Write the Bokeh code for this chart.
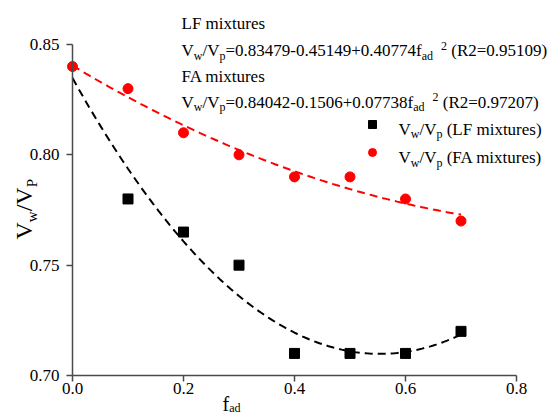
import math
import numpy as np
from bokeh.plotting import figure
from bokeh.models import Label, Legend, LegendItem, FixedTicker, Range1d
from bokeh.embed import file_html
from bokeh.resources import INLINE

# ---------------- data ----------------
f_ad_lf = [0.1, 0.2, 0.3, 0.4, 0.5, 0.6, 0.7]
vw_vp_lf = [0.78, 0.765, 0.75, 0.71, 0.71, 0.71, 0.72]
f_ad_fa = [0.0, 0.1, 0.2, 0.3, 0.4, 0.5, 0.6, 0.7]
vw_vp_fa = [0.84, 0.83, 0.81, 0.80, 0.79, 0.79, 0.78, 0.77]
lf_fit_coef = [0.83479, -0.45149, 0.40774]
fa_fit_coef = [0.84042, -0.1506, 0.07738]
lf_r2 = 0.95109
fa_r2 = 0.97207
x_ticks = [0.0, 0.2, 0.4, 0.6, 0.8]
x_tick_labels = ["0.0", "0.2", "0.4", "0.6", "0.8"]
y_ticks = [0.70, 0.75, 0.80, 0.85]
y_tick_labels = ["0.70", "0.75", "0.80", "0.85"]

# ---------------- layout helpers ----------------
FONT = "'Liberation Serif', serif"
W, H = 556, 415
FL, FT, FR, FB = 72, 44, 516, 375          # pixel box of the data area
X0, X1, Y0, Y1 = 0.0, 0.8, 0.70, 0.85

def dx(px):
    return X0 + (px - FL) / (FR - FL) * (X1 - X0)

def dy(py):
    return Y0 + (FB - py) / (FB - FT) * (Y1 - Y0)

WID = {' ': 250, '(': 333, ')': 333, '+': 564, '-': 333, '.': 250, '/': 278,
       '=': 564, 'A': 722, 'F': 556, 'L': 611, 'P': 556, 'R': 667, 'V': 722,
       'a': 444, 'd': 500, 'e': 444, 'f': 333, 'i': 278, 'm': 778, 'p': 500,
       'r': 333, 's': 389, 't': 278, 'u': 500, 'w': 722, 'x': 500}

def tw(s, size):
    return sum(WID.get(ch, 500) for ch in s) * size / 1000.0

# the frame spans the whole canvas; axes sit at fixed data locations
p = figure(width=W, height=H, output_backend="svg", toolbar_location=None,
           x_range=Range1d(dx(0), dx(W)), y_range=Range1d(dy(H), dy(0)),
           min_border=0)
p.outline_line_color = None
p.xgrid.visible = False
p.ygrid.visible = False
p.background_fill_color = "white"
p.border_fill_color = "white"

for ax in (p.xaxis[0], p.yaxis[0]):
    ax.axis_line_color = "#4a4a4a"
    ax.axis_line_width = 1.5
    ax.major_tick_line_color = "#4a4a4a"
    ax.major_tick_line_width = 1.5
    ax.major_tick_in = 0
    ax.major_tick_out = 6
    ax.minor_tick_line_color = None
    ax.major_label_text_font = FONT
    ax.major_label_text_font_size = "17px"
    ax.major_label_text_color = "black"

p.xaxis.fixed_location = Y0
p.xaxis.bounds = (X0, X1)
p.xaxis.ticker = FixedTicker(ticks=x_ticks)
p.xaxis.major_label_overrides = dict(zip(x_ticks, x_tick_labels))
p.xaxis.major_label_standoff = 1
p.yaxis.fixed_location = X0
p.yaxis.bounds = (Y0, Y1)
p.yaxis.ticker = FixedTicker(ticks=y_ticks)
p.yaxis.major_label_overrides = dict(zip(y_ticks, y_tick_labels))
p.yaxis.major_label_standoff = 7

# fitted curves (from the equations given on the chart)
xs = np.linspace(0.0, 0.7, 141)
lf_fit = np.polyval(lf_fit_coef[::-1], xs)
fa_fit = np.polyval(fa_fit_coef[::-1], xs)

p.line(xs, lf_fit, line_color="black", line_width=2, line_dash="8 5")
sq = p.scatter(f_ad_lf, vw_vp_lf, marker="square", size=10, fill_color="black", line_color="black")
p.line(xs, fa_fit, line_color="red", line_width=2, line_dash="8 5")
ci = p.scatter(f_ad_fa, vw_vp_fa, marker="circle", size=10, fill_color="red", line_color="red")

# legend (markers only; texts with subscripts are added as labels)
leg = Legend(items=[LegendItem(label=" ", renderers=[sq]),
                    LegendItem(label=" ", renderers=[ci])],
             location=(372 - 10, H - (124 - 10 + 48)),
             glyph_width=20, glyph_height=20, label_height=20, label_width=1,
             spacing=8, padding=0, margin=0, border_line_color=None,
             background_fill_alpha=0, label_text_font_size="1px")
p.add_layout(leg, "center")

# ---------------- texts ----------------
def add_text(sx, sy, text, size, angle=0.0):
    p.add_layout(Label(x=dx(sx), y=dy(sy), text=text, text_font=FONT,
                       text_font_size=f"{size}px", text_baseline="alphabetic",
                       text_align="left", angle=angle, text_color="black"))

def rich(sx, sy, parts, main=17, sub=12, sub_off=5):
    x = sx
    for text, kind, gap in parts:
        x += gap
        if kind == "n":
            size, off = main, 0
        elif kind == "b":
            size, off = sub, sub_off
        else:
            size, off = sub, -5
        add_text(x, sy + off, text, size)
        x += tw(text, size)

def rich_vertical(sx, sy, parts, main=24, sub=15):
    y = sy
    for text, kind in parts:
        if kind == "n":
            size, off = main, 0
        else:
            size, off = sub, 8
        add_text(sx + off, y, text, size, angle=math.pi / 2)
        y -= tw(text, size)

SP = 4.25  # width of a space at 17px

def eq_parts(coef, r2):
    body = "=" + str(coef[0]) + str(coef[1]) + "+" + str(coef[2]) + "f"
    return [("V", "n", 0), ("w", "b", 0), ("/V", "n", 0), ("p", "b", 0),
            (body, "n", 0), ("ad", "b", 0), ("2", "p", 8),
            ("(R2=" + str(r2) + ")", "n", SP)]

add_text(181, 22.7, "LF mixtures", 17)
rich(181, 50, eq_parts(lf_fit_coef, lf_r2))
add_text(181, 75.5, "FA mixtures", 17)
rich(181, 101.5, eq_parts(fa_fit_coef, fa_r2))

rich(398, 128.5, [("V", "n", 0), ("w", "b", 0), ("/V", "n", 0), ("p", "b", 0),
                  ("(LF mixtures)", "n", SP)])
rich(398, 157, [("V", "n", 0), ("w", "b", 0), ("/V", "n", 0), ("p", "b", 0),
                ("(FA mixtures)", "n", SP)])

# axis titles
rich(222, 403, [("f", "n", 0), ("ad", "b", 0)], main=20, sub=12, sub_off=4)
rich_vertical(23, 239, [("V", "n"), ("w", "b"), ("/V", "n"), ("P", "b")])

open("out.html", "w").write(file_html(p, INLINE))
